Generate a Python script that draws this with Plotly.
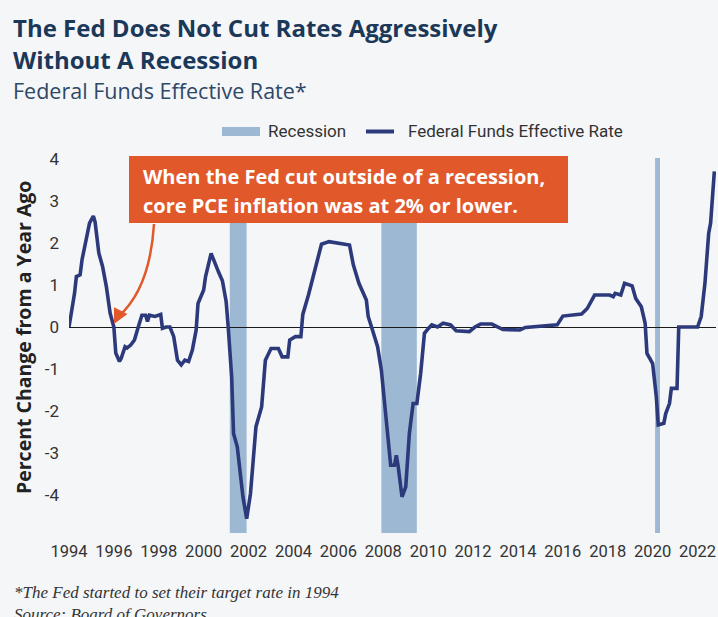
import plotly.graph_objects as go

# ---------------- data ----------------
dates = [
    "1994-01", "1994-02", "1994-04", "1994-05", "1994-07", "1994-08", "1994-10", "1994-12",
    "1995-02", "1995-03", "1995-05", "1995-07", "1995-09", "1995-11",
    "1996-01", "1996-02", "1996-04", "1996-05", "1996-07", "1996-08", "1996-10", "1996-12",
    "1997-02", "1997-04", "1997-06", "1997-07", "1997-08", "1997-11",
    "1998-02", "1998-03", "1998-05", "1998-07", "1998-09", "1998-11",
    "1999-01", "1999-03", "1999-05", "1999-07", "1999-09", "1999-10",
    "2000-01", "2000-02", "2000-05", "2000-08", "2000-09", "2000-11",
    "2001-01", "2001-02", "2001-03", "2001-04", "2001-05", "2001-07", "2001-10", "2001-12",
    "2002-02", "2002-03", "2002-05", "2002-08", "2002-10",
    "2003-01", "2003-05", "2003-07", "2003-10", "2003-11",
    "2004-02", "2004-05", "2004-06", "2004-09", "2004-12",
    "2005-04", "2005-08", "2006-01", "2006-07", "2006-09", "2006-12",
    "2007-04", "2007-05", "2007-07", "2007-10", "2007-12",
    "2008-02", "2008-04", "2008-05", "2008-07", "2008-08", "2008-09", "2008-11",
    "2009-01", "2009-03", "2009-05", "2009-07", "2009-09", "2009-11",
    "2010-01", "2010-03", "2010-06", "2010-09", "2011-01", "2011-04", "2011-11",
    "2012-02", "2012-05", "2012-11", "2013-05", "2014-02", "2014-05", "2015-01", "2015-10",
    "2016-01", "2016-11", "2017-02", "2017-04", "2017-06",
    "2018-02", "2018-04", "2018-05", "2018-08", "2018-10",
    "2019-02", "2019-04", "2019-07", "2019-09", "2019-10", "2019-12",
    "2020-01", "2020-03", "2020-04", "2020-07", "2020-08", "2020-10", "2020-11",
    "2021-02", "2021-03", "2021-07", "2022-01", "2022-03", "2022-05", "2022-07", "2022-08", "2022-10",
]
rate_change = [
    0.0, 0.25, 0.8, 1.2, 1.24, 1.6, 2.07, 2.47,
    2.64, 2.5, 1.76, 1.44, 0.96, 0.33,
    0.0, -0.62, -0.82, -0.74, -0.47, -0.5, -0.43, -0.31,
    0.0, 0.28, 0.28, 0.13, 0.28, 0.25,
    0.3, -0.03, 0.0, 0.0, -0.23, -0.79,
    -0.9, -0.79, -0.82, -0.55, -0.07, 0.56,
    0.88, 1.2, 1.75, 1.38, 1.3, 1.1,
    0.6, 0.05, -0.6, -1.2, -2.53, -2.85, -4.04, -4.56,
    -3.96, -3.48, -2.37, -1.9, -0.79,
    -0.51, -0.51, -0.71, -0.71, -0.31,
    -0.23, -0.23, 0.3, 0.76, 1.26,
    1.97, 2.03, 1.99, 1.95, 1.48, 1.04,
    0.64, 0.25, -0.03, -0.47, -1.02,
    -1.9, -2.77, -3.29, -3.29, -3.05, -3.33, -4.04,
    -3.8, -2.53, -1.82, -1.82, -1.1, -0.15,
    -0.04, 0.05, 0.0, 0.09, 0.05, -0.09, -0.11,
    0.0, 0.07, 0.07, -0.06, -0.07, -0.01, 0.02, 0.05,
    0.26, 0.31, 0.44, 0.58, 0.76,
    0.76, 0.72, 0.8, 0.76, 1.04,
    0.98, 0.68, 0.48, 0.09, -0.63, -0.79,
    -0.87, -1.66, -2.33, -2.29, -2.06, -1.82, -1.46,
    -1.46, 0.0, 0.0, 0.0, 0.25, 1.04, 2.23, 2.47, 3.7,
]
rec_start = ["2001-03-01", "2007-12-01", "2020-02-10"]
rec_end = ["2001-11-30", "2009-06-30", "2020-04-30"]
y_ticks = [-4, -3, -2, -1, 0, 1, 2, 3, 4]
y_tick_labels = ["-4", "-3", "-2", "-1", "0", "1", "2", "3", "4"]

title_1 = "The Fed Does Not Cut Rates Aggressively"
title_2 = "Without A Recession"
subtitle = "Federal Funds Effective Rate*"
callout_1 = "When the Fed cut outside of a recession,"
callout_2 = "core PCE inflation was at 2% or lower."
y_title = "Percent Change from a Year Ago"
foot_1 = "*The Fed started to set their target rate in 1994"
foot_2 = "Source: Board of Governors"

# ---------------- style ----------------
W, H = 718, 617
L, R, T, B = 69, 716, 158, 533
BG = "#F5F6F8"
NAVY = "#2C3A7B"
REC = "#9DB8D3"
ORANGE = "#E1582B"
TITLE_C = "#1B3859"
NARROW = "Liberation Sans Narrow, Roboto, sans-serif"


def px(x):
    return (x - L) / (R - L)


def py(y):
    return (B - y) / (B - T)


fig = go.Figure()
fig.add_trace(go.Scatter(
    x=dates, y=rate_change, mode="lines",
    line=dict(color=NAVY, width=3.6),
    name="Federal Funds Effective Rate", showlegend=False,
    hoverinfo="x+y",
))

shapes = []
for s, e in zip(rec_start, rec_end):
    shapes.append(dict(type="rect", xref="x", yref="paper", x0=s, x1=e, y0=0, y1=1,
                       fillcolor=REC, line=dict(width=0), layer="below"))

# legend (manual)
shapes.append(dict(type="rect", xref="paper", yref="paper",
                   x0=px(222), x1=px(260), y0=py(136), y1=py(127),
                   fillcolor=REC, line=dict(width=0)))
shapes.append(dict(type="line", xref="paper", yref="paper",
                   x0=px(366), x1=px(394), y0=py(131.5), y1=py(131.5),
                   line=dict(color=NAVY, width=4)))

# callout box
shapes.append(dict(type="rect", xref="paper", yref="paper",
                   x0=px(129), x1=px(568), y0=py(223), y1=py(156),
                   fillcolor=ORANGE, line=dict(width=0)))
# curved arrow
shapes.append(dict(type="path", xref="paper", yref="paper",
                   path=f"M {px(154)},{py(224)} Q {px(150)},{py(288)} {px(119)},{py(316)}",
                   line=dict(color=ORANGE, width=2.5)))

annotations = [
    dict(text=title_1, x=px(11), y=py(27), xref="paper", yref="paper", xanchor="left",
         yanchor="middle", showarrow=False,
         font=dict(family="Open Sans", size=24, color=TITLE_C, weight=700)),
    dict(text=title_2, x=px(11), y=py(59), xref="paper", yref="paper", xanchor="left",
         yanchor="middle", showarrow=False,
         font=dict(family="Open Sans", size=24, color=TITLE_C, weight=700)),
    dict(text=subtitle, x=px(11), y=py(90), xref="paper", yref="paper", xanchor="left",
         yanchor="middle", showarrow=False,
         font=dict(family="Open Sans", size=21.5, color="#2E4868")),
    dict(text="Recession", x=px(266), y=py(131), xref="paper", yref="paper", xanchor="left",
         yanchor="middle", showarrow=False,
         font=dict(family=NARROW, size=17, color="#333333")),
    dict(text="Federal Funds Effective Rate", x=px(406), y=py(131), xref="paper", yref="paper",
         xanchor="left", yanchor="middle", showarrow=False,
         font=dict(family=NARROW, size=17, color="#333333")),
    dict(text=callout_1, x=px(141), y=py(176), xref="paper", yref="paper", xanchor="left",
         yanchor="middle", showarrow=False,
         font=dict(family="Open Sans", size=20, color="white", weight=700)),
    dict(text=callout_2, x=px(141), y=py(205), xref="paper", yref="paper", xanchor="left",
         yanchor="middle", showarrow=False,
         font=dict(family="Open Sans", size=20, color="white", weight=700)),
    dict(text="", x=px(114), y=py(324), xref="paper", yref="paper",
         ax=5, ay=-10, axref="pixel", ayref="pixel", showarrow=True,
         arrowhead=2, arrowsize=1.2, arrowwidth=2.5, arrowcolor=ORANGE, standoff=0),
    dict(text=y_title, x=px(23), y=py(338), xref="paper", yref="paper", xanchor="center",
         yanchor="middle", textangle=-90, showarrow=False,
         font=dict(family="Open Sans", size=19.5, color="#222222", weight=700)),
    dict(text=foot_1 + "<br>" + foot_2, x=px(12), y=py(581), xref="paper", yref="paper",
         xanchor="left", yanchor="top", align="left", showarrow=False,
         font=dict(family="Liberation Serif", size=17, color="#333333", style="italic")),
]

fig.update_layout(
    width=W, height=H, autosize=False,
    margin=dict(l=L, r=W - R, t=T, b=H - B, pad=0),
    paper_bgcolor=BG, plot_bgcolor=BG,
    shapes=shapes, annotations=annotations,
    showlegend=False,
    xaxis=dict(
        type="date", range=["1994-01-01", "2022-10-28"],
        tick0="1994-01-01", dtick="M24", tickformat="%Y",
        showgrid=False, zeroline=False, showline=False,
        ticks="", ticklabelstandoff=6,
        tickfont=dict(family=NARROW, size=16.5, color="#333333"),
    ),
    yaxis=dict(
        range=[-4.9, 4.02], tickvals=y_ticks, ticktext=y_tick_labels,
        showgrid=False, zeroline=True, zerolinecolor="#1A1A1A", zerolinewidth=1.3,
        showline=False, ticks="", ticklabelstandoff=9,
        tickfont=dict(family=NARROW, size=17, color="#333333"),
    ),
)

fig.write_html("out.html")
